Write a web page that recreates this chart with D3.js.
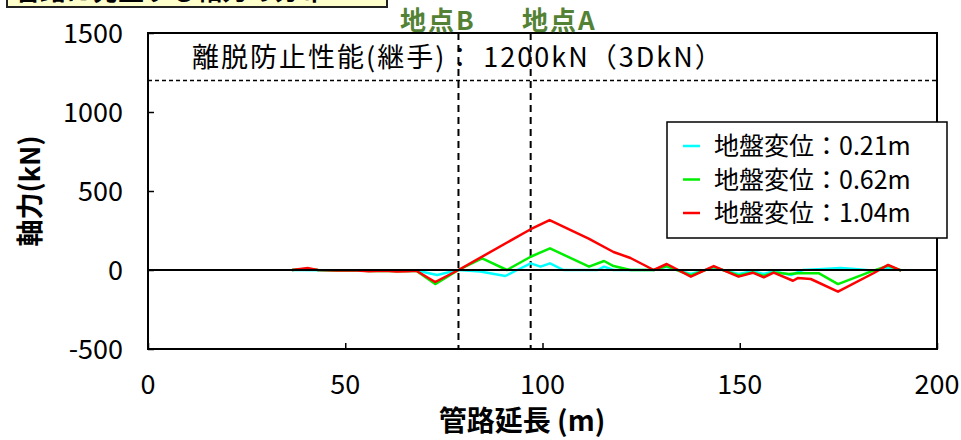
<!DOCTYPE html>
<html>
<head>
<meta charset="utf-8">
<script src="https://cdn.jsdelivr.net/npm/d3@7"></script>
<style>
  html, body { margin: 0; padding: 0; background: #fff; }
  svg { display: block; }
  text { font-family: "Noto Sans CJK JP", "Noto Sans", sans-serif; fill: #000; }
</style>
</head>
<body>
<svg id="chart" width="961" height="440"></svg>
<script>
// Pipe length (m) and axial force (kN) for each ground displacement case
const seriesNames = ["地盤変位：0.21m", "地盤変位：0.62m", "地盤変位：1.04m"];
const seriesColors = ["#00ffff", "#00ee00", "#ff0000"];

const cyanX = [36.5, 45, 55, 65, 68, 73.3, 78.7, 84.2, 90.6, 93.6, 97, 99.5, 101.9, 105.3, 114, 115.6, 118, 128.2, 131.4, 137.6, 143.4, 149.7, 153.3, 156.1, 158.6, 163, 166, 170, 175.6, 180, 184, 187.6, 190.9];
const cyanY = [0, -2, -3, -3, -3, -32, 0, -10, -38, 0, 42, 21, 42, 0, 0, 21, 0, 0, 21, -25, 15, -25, -8, -25, -8, -32, 0, 5, 12, 5, -5, 15, -2];

const greenX = [36.5, 40.6, 43.1, 48, 52, 56, 60, 63, 66, 68, 72.8, 78.7, 84.7, 91, 97, 101.9, 111.8, 115.6, 118, 122.3, 128.2, 131.5, 137.6, 143.4, 149.7, 153.3, 156.1, 158.6, 162.5, 164.7, 170, 174.9, 183.2, 187.6, 190.9];
const greenY = [0, 8, 0, -3, -2, -6, -4, -8, -6, -5, -89, 0, 74, 0, 84, 137, 21, 57, 25, 0, 0, 25, -35, 20, -35, -15, -38, -15, -25, -20, -20, -89, -10, 28, -3];

const redX = [36.5, 40.6, 43.1, 48, 52, 56, 60, 63, 66, 68, 72.8, 78.7, 97, 101.8, 111.7, 118, 122.3, 128.2, 131.5, 137.6, 143.4, 149.7, 153.3, 156.1, 158.6, 163.5, 164.7, 168, 174.9, 184, 187.6, 190.9];
const redY = [0, 12, 0, -3, -2, -8, -5, -10, -8, -5, -76, 0, 258, 316, 199, 114, 76, 0, 38, -42, 25, -42, -17, -46, -17, -68, -51, -57, -137, -19, 32, -4];

const xTicks = [0, 50, 100, 150, 200];
const yTicks = [-500, 0, 500, 1000, 1500];
const limitValue = 1200;             // joint pull-out resistance (kN)
const pointB = 78.7, pointA = 97;    // survey points along the pipe (m)

const series = [
  { name: seriesNames[0], color: seriesColors[0], pts: d3.zip(cyanX, cyanY) },
  { name: seriesNames[1], color: seriesColors[1], pts: d3.zip(greenX, greenY) },
  { name: seriesNames[2], color: seriesColors[2], pts: d3.zip(redX, redY) }
];

const svg = d3.select("#chart");
const L = 148, R = 937, T = 33, B = 349;
const x = d3.scaleLinear().domain([0, 200]).range([L, R]);
const y = d3.scaleLinear().domain([-500, 1500]).range([B, T]);

// Title box at the top-left, running off the top edge
svg.append("rect").attr("x", 7).attr("y", -30).attr("width", 380).attr("height", 37)
  .attr("fill", "#ffffcc").attr("stroke", "#222").attr("stroke-width", 2);
svg.append("text").attr("x", 14).attr("y", 0).attr("font-size", 26).attr("font-weight", "bold")
  .text("管路に発生する軸力の分布");

// Plot frame
svg.append("rect").attr("x", L).attr("y", T).attr("width", R - L).attr("height", B - T)
  .attr("fill", "none").attr("stroke", "#000").attr("stroke-width", 2);

// Axes (inward ticks, labels drawn separately)
const xAxis = d3.axisBottom(x).tickValues(xTicks).tickSizeInner(-6).tickSizeOuter(0).tickFormat("");
svg.append("g").attr("transform", `translate(0,${B})`).call(xAxis)
  .call(g => g.select(".domain").remove())
  .call(g => g.selectAll("line").attr("stroke", "#000").attr("stroke-width", 1.5));
const yAxis = d3.axisLeft(y).tickValues(yTicks).tickSizeInner(-6).tickSizeOuter(0).tickFormat("");
svg.append("g").attr("transform", `translate(${L},0)`).call(yAxis)
  .call(g => g.select(".domain").remove())
  .call(g => g.selectAll("line").attr("stroke", "#000").attr("stroke-width", 1.5));

svg.append("g").selectAll("text").data(xTicks).join("text")
  .attr("x", d => x(d)).attr("y", 394).attr("text-anchor", "middle")
  .attr("font-size", 27).text(d => d);
svg.append("g").selectAll("text").data(yTicks).join("text")
  .attr("x", 123).attr("y", d => y(d) + 10).attr("text-anchor", "end")
  .attr("font-size", 27).text(d => d);

// Axis titles
svg.append("text").attr("x", 522).attr("y", 431).attr("text-anchor", "middle")
  .attr("font-size", 28).attr("font-weight", "bold").text("管路延長 (m)");
svg.append("text").attr("transform", "translate(40,191) rotate(-90)").attr("text-anchor", "middle")
  .attr("font-size", 27).attr("font-weight", "bold").text("軸力(kN)");

// Pull-out limit line and its note
svg.append("line").attr("x1", L).attr("x2", R).attr("y1", y(limitValue)).attr("y2", y(limitValue))
  .attr("stroke", "#000").attr("stroke-width", 1.5).attr("stroke-dasharray", "4,3");
svg.append("text").attr("x", 192).attr("y", 67).attr("font-size", 27).attr("letter-spacing", 2)
  .text("離脱防止性能(継手)： 1200kN（3DkN）");

// Survey point markers
[[pointB, "地点B", 400], [pointA, "地点A", 522]].forEach(([p, lab, lx]) => {
  svg.append("line").attr("x1", x(p)).attr("x2", x(p)).attr("y1", T).attr("y2", B)
    .attr("stroke", "#000").attr("stroke-width", 2).attr("stroke-dasharray", "7,5");
  svg.append("text").attr("x", lx).attr("y", 30)
    .attr("font-size", 26).attr("font-weight", "bold").attr("letter-spacing", 2).style("fill", "#548235").text(lab);
});

// Series lines
const line = d3.line().x(d => x(d[0])).y(d => y(d[1]));
svg.append("g").selectAll("path").data(series).join("path")
  .attr("d", d => line(d.pts)).attr("fill", "none")
  .attr("stroke", d => d.color).attr("stroke-width", 2.5).attr("stroke-linejoin", "round");

// Zero line
svg.append("line").attr("x1", L).attr("x2", R).attr("y1", y(0)).attr("y2", y(0))
  .attr("stroke", "#000").attr("stroke-width", 2);

// Legend
const lg = svg.append("g").attr("transform", "translate(667,122)");
lg.append("rect").attr("width", 280).attr("height", 116).attr("fill", "#fff")
  .attr("stroke", "#000").attr("stroke-width", 1.5);
series.forEach((s, i) => {
  const cy = 24 + i * 33.5;
  lg.append("line").attr("x1", 16).attr("x2", 33).attr("y1", cy).attr("y2", cy)
    .attr("stroke", s.color).attr("stroke-width", 2.5);
  lg.append("text").attr("x", 47).attr("y", cy + 9).attr("font-size", 25).text(s.name);
});
</script>
</body>
</html>
